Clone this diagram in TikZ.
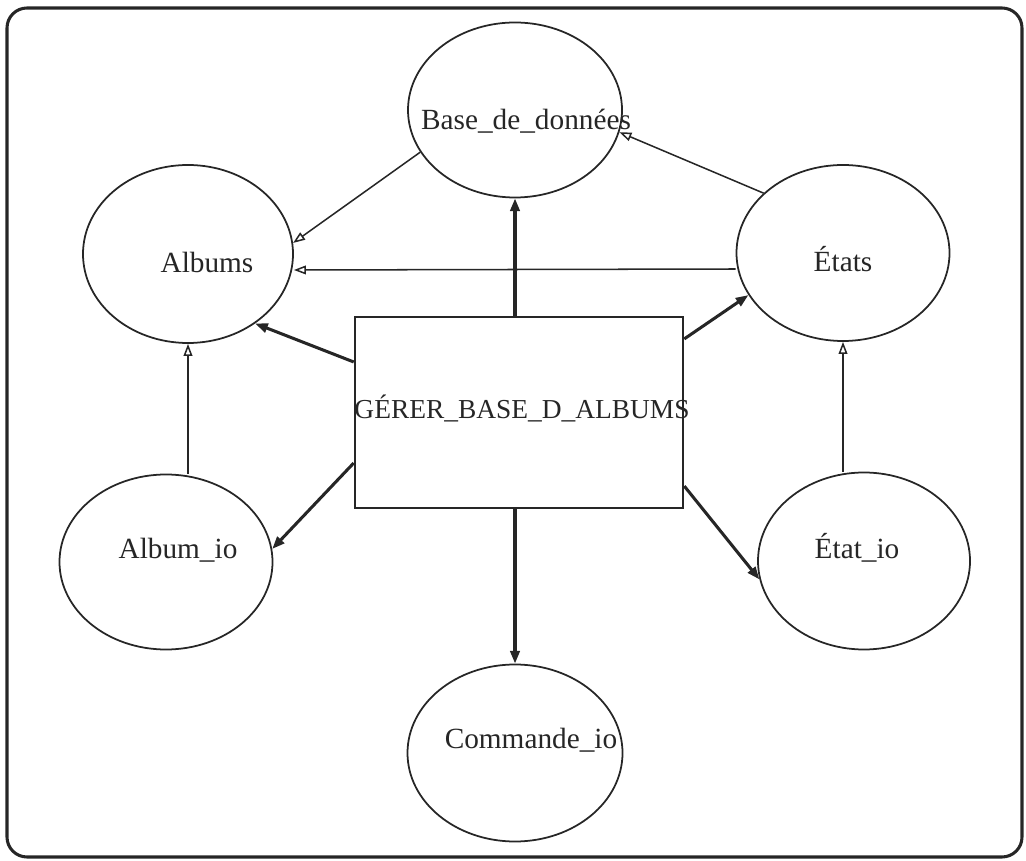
\documentclass[tikz,border=0pt]{standalone}
\usepackage{fontspec}
\setmainfont{Liberation Serif}
\usepackage{tikz}
\usetikzlibrary{arrows.meta,shapes.geometric}
\definecolor{inkdark}{HTML}{262626}

\begin{document}
\begin{tikzpicture}[
  proc/.style={draw=inkdark, line width=1.1pt, rectangle, inner sep=0pt,
    minimum width=4.92cm, minimum height=2.865cm},
  store/.style={draw=inkdark, line width=0.75pt, ellipse, inner sep=0pt},
  lbl/.style={anchor=base, inner sep=0pt, text=inkdark,
    font=\fontsize{12.5}{15}\selectfont},
  arr/.style={-{Triangle[length=1.9mm,width=1.4mm]}, line width=1.3pt, inkdark},
  thinarr/.style={-{Triangle[open,length=1.8mm,width=1.3mm]}, line width=0.65pt, inkdark},
]
\useasboundingbox (0,0) rectangle (15.39,-12.915);
\draw[inkdark, line width=1.3pt, rounded corners=0.3cm] (0.105,-0.12) rectangle (15.33,-12.855);
% --- process and stores ---
\node[proc] (box) at (7.785,-6.1875) {};
\node[store, minimum width=3.21cm, minimum height=2.625cm] (db) at (7.725,-1.65) {};
\node[store, minimum width=3.15cm, minimum height=2.67cm] (albums) at (2.82,-3.81) {};
\node[store, minimum width=3.195cm, minimum height=2.64cm] (etats) at (12.645,-3.795) {};
\node[store, minimum width=3.195cm, minimum height=2.625cm] (albumio) at (2.49,-8.43) {};
\node[store, minimum width=3.18cm, minimum height=2.655cm] (etatio) at (12.96,-8.415) {};
\node[store, minimum width=3.225cm, minimum height=2.655cm] (cmdio) at (7.725,-11.295) {};
% --- labels ---
\node[lbl, font=\fontsize{11.7}{14}\selectfont] (boxtxt) at (7.83,-6.285) {GÉRER\_BASE\_D\_ALBUMS};
\node[lbl] (dbtxt) at (7.89,-1.95) {Base\_de\_données};
\node[lbl] (albumstxt) at (3.105,-4.095) {Albums};
\node[lbl] (etatstxt) at (12.645,-4.08) {États};
\node[lbl] (albumiotxt) at (2.67,-8.37) {Album\_io};
\node[lbl] (etatiotxt) at (12.855,-8.37) {État\_io};
\node[lbl] (cmdiotxt) at (7.965,-11.22) {Commande\_io};
% --- flows out of the process ---
\draw[arr] (db.south |- box.north) -- (db.south);
\draw[arr] (box.south -| cmdio.north) -- (cmdio.north);
\draw[arr] (box.163) -- (albums.-46);
\draw[arr] (box.197) -- (albumio.7);
\draw[arr] (box.24) -- (etats.204);
\draw[arr] (box.-24) -- (etatio.190);
% --- links between stores ---
\draw[thinarr] (db.204) -- (albums.6);
\draw[thinarr] ([yshift=-0.24cm]etats.west) -- ([yshift=-0.24cm]albums.east);
\draw[thinarr] (etats.143) -- (db.-12);
\draw[thinarr] (albums.south |- albumio.north) -- (albums.south);
\draw[thinarr] (etats.south |- etatio.north) -- (etats.south);
\end{tikzpicture}
\end{document}
